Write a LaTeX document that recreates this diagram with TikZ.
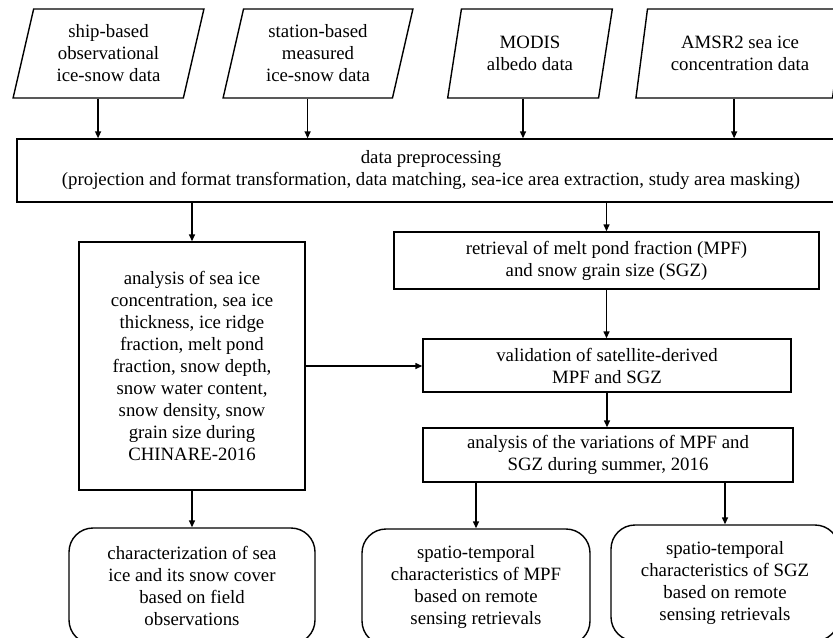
\documentclass[tikz,border=0pt]{standalone}
\usepackage{fontspec}
\setmainfont{Liberation Serif}
\usetikzlibrary{shapes.geometric,arrows.meta}

\begin{document}
\begin{tikzpicture}
  [x=0.5pt,y=-0.5pt,line width=0.7pt,>={Triangle[length=3.5pt,width=3pt]},
   every node/.style={align=center,font=\fontsize{9.4}{11}\selectfont,inner sep=0pt},
   data/.style={draw,trapezium,trapezium left angle=76,trapezium right angle=104,
     trapezium stretches=true,minimum height=44.5pt},
   box/.style={draw,rectangle},
   result/.style={draw,rectangle,rounded corners=12pt}]
  \useasboundingbox (0,0) rectangle (833,637);
  \clip (0,0) rectangle (833,637);

  % input data
  \node[data,minimum width=95.5pt] (d1) at (108.5,53.5) {ship-based\\observational\\ice-snow data};
  \node[data,minimum width=95pt] (d2) at (318,53.5) {station-based\\measured\\ice-snow data};
  \node[data,minimum width=82.5pt] (d3) at (530,53.5) {MODIS\\albedo data};
  \node[data,minimum width=104.5pt] (d4) at (740,53.5) {AMSR2 sea ice\\concentration data};

  \node[box,minimum width=414pt,minimum height=31.5pt] (pre) at (431,170.5)
    {data preprocessing\\(projection and format transformation, data matching, sea-ice area extraction, study area masking)};

  % field branch
  \node[box,minimum width=113pt,minimum height=124pt] (obs) at (192,366)
    {analysis of sea ice\\concentration, sea ice\\thickness, ice ridge\\fraction, melt pond\\fraction, snow depth,\\snow water content,\\snow density, snow\\grain size during\\CHINARE-2016};

  % satellite branch
  \node[box,minimum width=212.5pt,minimum height=28.5pt] (ret) at (606.5,260.5)
    {retrieval of melt pond fraction (MPF)\\and snow grain size (SGZ)};
  \node[box,minimum width=184pt,minimum height=26.5pt] (val) at (607,365.5)
    {validation of satellite-derived\\MPF and SGZ};
  \node[box,minimum width=185pt,minimum height=27pt] (var) at (608,455)
    {analysis of the variations of MPF and\\SGZ during summer, 2016};

  % results
  \node[result,minimum width=123pt,minimum height=58pt] (c1) at (192,586)
    {characterization of sea\\ice and its snow cover\\based on field\\observations};
  \node[result,minimum width=114pt,minimum height=58pt] (c2) at (476,587)
    {spatio-temporal\\characteristics of MPF\\based on remote\\sensing retrievals};
  \node[result,minimum width=114pt,minimum height=58pt] (c3) at (725,583)
    {spatio-temporal\\characteristics of SGZ\\based on remote\\sensing retrievals};

  \draw[->] (d1.bottom side) -- (d1.bottom side |- pre.north);
  \draw[->] (d2.bottom side) -- (d2.bottom side |- pre.north);
  \draw[->] (d3.bottom side) -- (d3.bottom side |- pre.north);
  \draw[->] (d4.bottom side) -- (d4.bottom side |- pre.north);
  \draw[->] (obs.north |- pre.south) -- (obs.north);
  \draw[->] (ret.north |- pre.south) -- (ret.north);
  \draw[->] (ret.south) -- (ret.south |- val.north);
  \draw[->] (obs.east) -- (obs.east -| val.west);
  \draw[->] (val.south) -- (val.south |- var.north);
  \draw[->] (obs.south) -- (obs.south |- c1.north);
  \draw[->] (c2.north |- var.south) -- (c2.north);
  \draw[->] (c3.north |- var.south) -- (c3.north);

\end{tikzpicture}
\end{document}
